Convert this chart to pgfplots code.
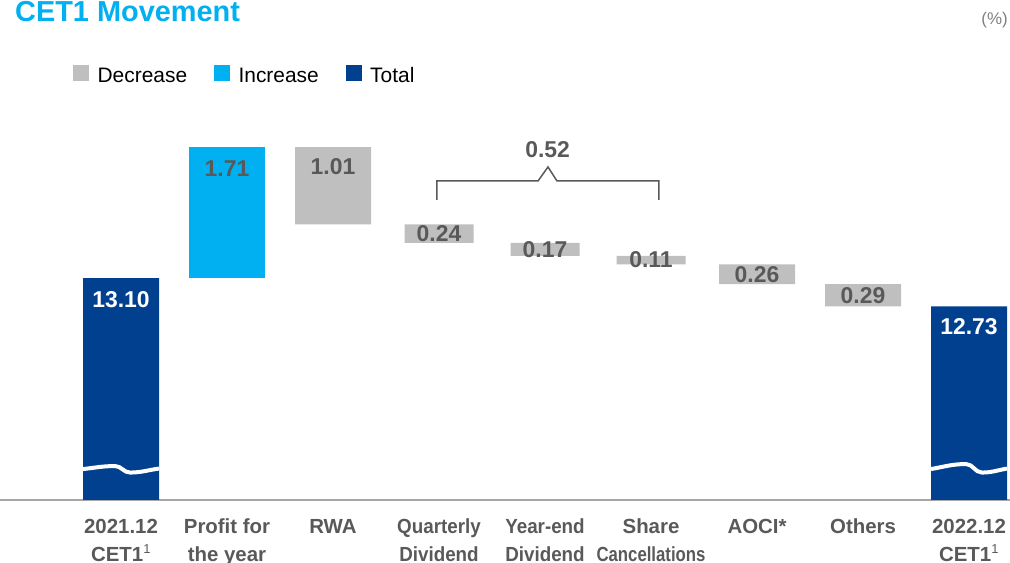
\documentclass[border=0pt]{standalone}
\usepackage{pgfplots}
\pgfplotsset{compat=1.18}
\usepackage{pgfplotstable}
\usepackage{graphicx}
\usepackage{fontspec}
\setmainfont{Liberation Sans}

\definecolor{totalblue}{HTML}{00408F}
\definecolor{incblue}{HTML}{00B0F0}
\definecolor{decgray}{HTML}{BFBFBF}
\definecolor{labelgray}{HTML}{595959}
\definecolor{axisgray}{HTML}{A6A6A6}
\definecolor{unitgray}{HTML}{7F7F7F}

% Waterfall: invisible base + visible segment per category (CET1 ratio, %)
\pgfplotstableread{
x base  total increase decrease dividend
0 0     13.10 0    0    0
1 13.10 0     1.71 0    0
2 13.80 0     0    1.01 0
3 13.56 0     0    0    0.24
4 13.39 0     0    0    0.17
5 13.28 0     0    0    0.11
6 13.02 0     0    0.26 0
7 12.73 0     0    0.29 0
8 0     12.73 0    0    0
}\cetdata

\newcommand{\supone}{\textsuperscript{\mdseries\fontsize{13}{14}\selectfont 1}}

\begin{document}
\begin{tikzpicture}
\useasboundingbox (0bp,0bp) rectangle (1010bp,-563bp);
\node[anchor=base west, inner sep=0pt, text=incblue,
      font=\fontsize{29}{32}\selectfont\bfseries] at (15bp,-21bp) {CET1 Movement};
\node[anchor=base east, inner sep=0pt, text=unitgray,
      font=\fontsize{17}{20}\selectfont] at (1008bp,-24bp) {(\%)};
\begin{axis}[
  at={(0bp,-500bp)}, anchor=south west,
  scale only axis, width=1010bp, height=400bp,
  xmin=-1.1415, xmax=8.3868, ymin=10.203, ymax=15.424,
  enlargelimits=false,
  ybar stacked,
  axis x line*=bottom, axis y line=none,
  axis line style={draw=axisgray, line width=2.5bp},
  xtick={0,...,8}, major tick length=0pt, ytick=\empty,
  xticklabels={
    {\strut 2021.12\\\strut CET1\supone},
    {\strut Profit for\\\strut the year},
    {\strut RWA},
    {\strut\scalebox{0.92}[1]{Quarterly}\\\strut\scalebox{0.92}[1]{Dividend}},
    {\strut\scalebox{0.92}[1]{Year-end}\\\strut\scalebox{0.92}[1]{Dividend}},
    {\strut Share\\\strut\scalebox{0.82}[1]{Cancellations}},
    {\strut AOCI*},
    {\strut Others},
    {\strut 2022.12\\\strut CET1\supone}},
  xticklabel style={align=center, anchor=north, inner sep=0pt, yshift=-13.4bp,
    text=labelgray, font=\fontsize{20.5}{28}\selectfont\bfseries},
  legend columns=3,
  legend cell align=left,
  legend style={at={(0.0723,1.064)}, anchor=west, draw=none, fill=none,
    inner sep=0pt, font=\fontsize{21}{25}\selectfont,
    nodes={inner sep=0pt},
    /tikz/every odd column/.append style={column sep=9bp},
    /tikz/every even column/.append style={column sep=27bp}},
]
\addplot[forget plot, draw=none, fill=none, bar width=76bp] table[x=x, y=base] {\cetdata};
\addplot[forget plot, draw=none, fill=totalblue, bar width=76bp] table[x=x, y=total] {\cetdata};
\addplot[forget plot, draw=none, fill=incblue, bar width=76bp] table[x=x, y=increase] {\cetdata};
\addplot[forget plot, draw=none, fill=decgray, bar width=76bp] table[x=x, y=decrease] {\cetdata};
\addplot[forget plot, draw=none, fill=decgray, bar width=69bp] table[x=x, y=dividend] {\cetdata};

\addlegendimage{legend image code/.code={\fill[decgray] (0bp,-4bp) rectangle (15bp,11bp);}}
\addlegendentry{Decrease}
\addlegendimage{legend image code/.code={\fill[incblue] (0bp,-4bp) rectangle (15bp,11bp);}}
\addlegendentry{Increase}
\addlegendimage{legend image code/.code={\fill[totalblue] (0bp,-4bp) rectangle (15bp,11bp);}}
\addlegendentry{Total}

% anchor points for the overlays drawn after the axis
\coordinate (w0) at (axis cs:-0.3585,10.607);
\coordinate (w8) at (axis cs:7.6415,10.607);
\coordinate (b1) at (axis cs:2.98,14.119);
\coordinate (b2) at (axis cs:2.98,14.367);
\coordinate (b3) at (axis cs:3.934,14.367);
\coordinate (b4) at (axis cs:4.028,14.55);
\coordinate (b5) at (axis cs:4.113,14.367);
\coordinate (b6) at (axis cs:5.075,14.367);
\coordinate (b7) at (axis cs:5.075,14.119);
\coordinate (sum) at (axis cs:4.024,14.667);
\coordinate (v0) at (axis cs:0,13.10);
\coordinate (v1) at (axis cs:1,14.81);
\coordinate (v2) at (axis cs:2,14.81);
\coordinate (v3) at (axis cs:3,13.68);
\coordinate (v4) at (axis cs:4,13.475);
\coordinate (v5) at (axis cs:5,13.335);
\coordinate (v6) at (axis cs:6,13.15);
\coordinate (v7) at (axis cs:7,12.875);
\coordinate (v8) at (axis cs:8,12.73);
\end{axis}

% axis-break waves on the total bars
\draw[white, line width=4bp] (w0) to[out=6,in=180] ++(32bp,3bp)
  to[out=0,in=180] ++(15bp,-6.5bp) to[out=0,in=188] ++(29bp,4bp);
\draw[white, line width=4bp] (w8) to[out=10,in=180] ++(35bp,5bp)
  to[out=0,in=180] ++(16bp,-8.5bp) to[out=0,in=190] ++(25bp,4bp);

% dividend bracket
\draw[labelgray, line width=1.5bp] (b1) -- (b2) -- (b3) -- (b4) -- (b5) -- (b6) -- (b7);
\node[anchor=base, inner sep=0pt, text=labelgray, font=\fontsize{23}{26}\selectfont\bfseries]
  at (sum) {0.52};

% value labels
\tikzset{vl/.style={inner sep=0pt, font=\fontsize{23}{26}\selectfont\bfseries, text=labelgray}}
\node[vl, text=white, anchor=north, yshift=-13bp] at (v0) {13.10};
\node[vl, anchor=north, yshift=-13bp] at (v1) {1.71};
\node[vl, anchor=north, yshift=-11bp] at (v2) {1.01};
\node[vl, anchor=center] at (v3) {0.24};
\node[vl, anchor=center] at (v4) {0.17};
\node[vl, anchor=center] at (v5) {0.11};
\node[vl, anchor=center] at (v6) {0.26};
\node[vl, anchor=center] at (v7) {0.29};
\node[vl, text=white, anchor=north, yshift=-12bp] at (v8) {12.73};
\end{tikzpicture}
\end{document}
